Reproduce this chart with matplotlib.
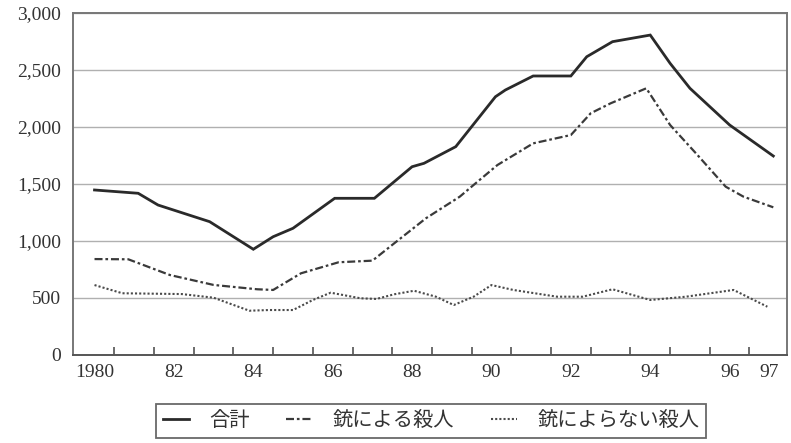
import matplotlib
matplotlib.use("Agg")
import matplotlib.pyplot as plt
from matplotlib.ticker import FixedLocator

# ---- data ----
total_years = [1980.0, 1981.1, 1981.6, 1982.9, 1984.0, 1984.5, 1985.0, 1986.05, 1987.05,
               1988.0, 1988.3, 1989.1, 1990.1, 1990.35, 1991.05, 1992.0, 1992.4, 1993.05,
               1994.0, 1994.5, 1995.0, 1996.0, 1997.1]
total_vals = [1445, 1416, 1313, 1167, 925, 1035, 1109, 1372, 1372,
              1649, 1679, 1825, 2263, 2322, 2445, 2445, 2614, 2746,
              2804, 2556, 2337, 2015, 1743]

gun_years = [1980.0, 1980.85, 1981.9, 1983.0, 1984.1, 1984.5, 1985.2, 1986.15, 1987.0,
             1987.55, 1988.35, 1989.2, 1989.55, 1990.15, 1991.05, 1992.0, 1992.5, 1993.0,
             1993.9, 1994.5, 1995.15, 1995.9, 1996.35, 1997.1]
gun_vals = [839, 837, 699, 612, 574, 568, 714, 811, 825,
            977, 1197, 1386, 1489, 1664, 1854, 1927, 2118, 2205,
            2337, 2015, 1767, 1474, 1386, 1293]

nongun_years = [1980.0, 1980.7, 1982.2, 1983.0, 1983.9, 1984.4, 1985.0, 1985.5, 1985.95,
                1986.7, 1987.1, 1987.55, 1988.05, 1988.6, 1989.05, 1989.55, 1990.0, 1990.55,
                1991.65, 1992.3, 1993.05, 1994.0, 1994.9, 1996.1, 1996.95]
nongun_vals = [611, 539, 532, 500, 386, 392, 392, 480, 544,
               495, 489, 530, 561, 509, 436, 509, 611, 568,
               509, 509, 574, 480, 509, 568, 421]

series_labels = ["合計", "銃による殺人", "銃によらない殺人"]

xtick_years = [1980, 1982, 1984, 1986, 1988, 1990, 1992, 1994, 1996, 1997]
xtick_labels = ["1980", "82", "84", "86", "88", "90", "92", "94", "96", "97"]
ytick_vals = [0, 500, 1000, 1500, 2000, 2500, 3000]
ytick_labels = ["0", "500", "1,000", "1,500", "2,000", "2,500", "3,000"]

# ---- figure ----
fig = plt.figure(figsize=(7.91, 4.43), dpi=100)
ax = fig.add_axes([0.0927, 0.1993, 0.9018, 0.7720])

ax.plot(total_years, total_vals, color="#2a2a2a", lw=2.0, solid_joinstyle="miter",
        label=series_labels[0], zorder=3)
ax.plot(gun_years, gun_vals, color="#3a3a3a", lw=1.6,
        linestyle=(0, (3.6, 1.3, 1.2, 1.3)), label=series_labels[1], zorder=3)
ax.plot(nongun_years, nongun_vals, color="#4a4a4a", lw=1.5,
        linestyle=(0, (1.0, 1.0)), label=series_labels[2], zorder=3)

ax.set_xlim(1979.466, 1997.436)
ax.set_ylim(0, 3000)

ax.set_yticks(ytick_vals)
ax.set_yticklabels(ytick_labels, fontfamily="Liberation Serif", fontsize=14, color="#333333")
ax.set_xticks(xtick_years)
ax.set_xticklabels(xtick_labels, fontfamily="Liberation Serif", fontsize=14, color="#333333")
ax.xaxis.set_minor_locator(FixedLocator([y + 0.5 for y in range(1980, 1997)]))

ax.tick_params(axis="y", length=0, pad=9)
ax.tick_params(axis="x", which="major", length=0, pad=7)
ax.tick_params(axis="x", which="minor", direction="in", length=6, width=1.1, color="#444444")

ax.yaxis.grid(True, color="#b0b0b0", lw=1.0)
ax.set_axisbelow(True)
for s in ax.spines.values():
    s.set_color("#777777")
    s.set_linewidth(1.4)
ax.spines["bottom"].set_color("#555555")

leg = fig.legend(loc="center", bbox_to_anchor=(431 / 791, 1 - 421 / 443), ncol=3,
                 prop={"family": ["Noto Sans CJK JP", "DejaVu Sans"], "size": 14.6},
                 frameon=True, fancybox=False, handlelength=1.3, handletextpad=1.0,
                 columnspacing=1.8, borderpad=0.3, borderaxespad=0.0, labelcolor="#333333")
leg.get_frame().set_edgecolor("#444444")
leg.get_frame().set_linewidth(1.3)

fig.savefig("out.png", dpi=100)
